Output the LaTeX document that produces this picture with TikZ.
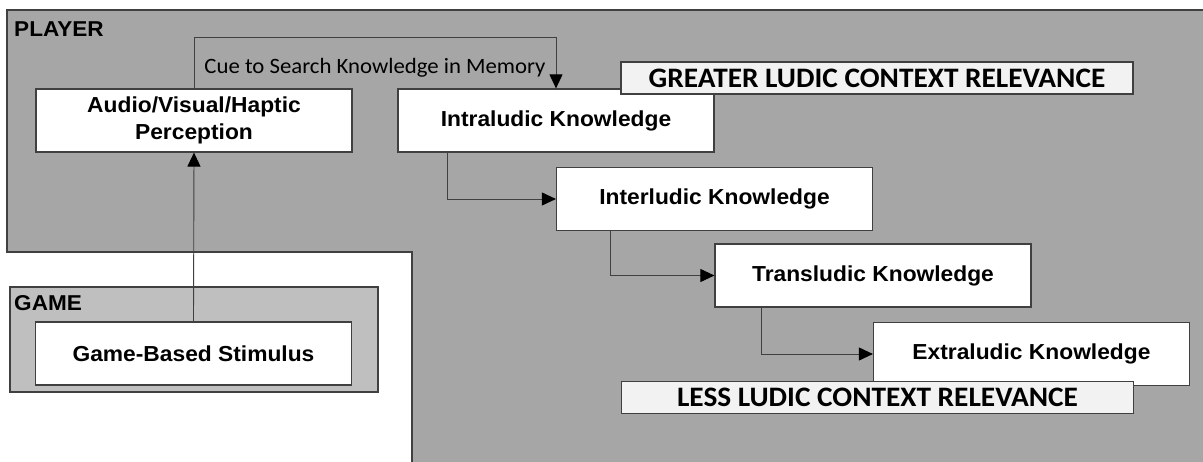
\documentclass[tikz,border=0pt]{standalone}
\usepackage{fontspec}
\usetikzlibrary{arrows.meta,calc}
\newfontfamily\boxfont[FakeStretch=1.05]{Liberation Sans}
\newfontfamily\calfont[FakeStretch=1.04]{Carlito}
\definecolor{edge}{HTML}{404040}
\definecolor{playerfill}{HTML}{A6A6A6}
\definecolor{gamefill}{HTML}{BFBFBF}
\definecolor{relfill}{HTML}{F2F2F2}
\tikzset{
  region/.style={draw=edge, line width=1.2pt},
  grouplabel/.style={anchor=base west, inner sep=0pt, font=\boxfont\bfseries\fontsize{21.5}{26}\selectfont},
  kbox/.style={draw=edge, fill=white, line width=1.2pt, minimum width=316pt, minimum height=63pt,
    inner sep=0pt, align=center, font=\boxfont\bfseries\fontsize{21.7}{27}\selectfont},
  relbox/.style={draw=edge, fill=relfill, line width=1.2pt, minimum width=512pt, minimum height=32pt,
    inner sep=0pt, font=\calfont\bfseries\fontsize{28.2}{32}\selectfont},
  arr/.style={draw=edge, line width=0.9pt, -{Triangle[length=14pt,width=13pt,color=black]}},
  cue/.style={font=\calfont\fontsize{21.9}{26}\selectfont, inner sep=0pt}
}
\begin{document}
\begin{tikzpicture}[x=1pt,y=-1pt]
  \useasboundingbox (0,0) rectangle (1203,461);
  \fill[white] (0,0) rectangle (1203,461);
  \clip (0,0) rectangle (1203,461);

  % player region, open towards the right and bottom edges
  \path[region, fill=playerfill] (7,10) -- (1220,10) -- (1220,480) -- (412,480) -- (412,252) -- (7,252) -- cycle;
  \node[grouplabel] (playerlbl) at (14,36.7) {PLAYER};

  % game region
  \node[region, fill=gamefill, minimum width=368pt, minimum height=105pt, inner sep=0pt] (game) at (194,339.5) {};
  \node[grouplabel] (gamelbl) at (14,310.7) {GAME};

  % boxes
  \node[kbox] (perc)  at (194,120.5) {Audio/Visual/Haptic\\Perception};
  \node[kbox] (stim)  at (193.5,353.5) {Game-Based Stimulus};
  \node[kbox] (intra) at (556,120.5) {Intraludic Knowledge};
  \node[kbox] (inter) at (714.5,199) {Interludic Knowledge};
  \node[kbox] (trans) at (873,275.5) {Transludic Knowledge};
  \node[kbox] (extra) at (1031.5,354) {Extraludic Knowledge};

  % relevance banners
  \node[relbox] (greater) at (877,78) {GREATER LUDIC CONTEXT RELEVANCE};
  \node[relbox] (less)    at (877.5,397.5) {LESS LUDIC CONTEXT RELEVANCE};

  % connectors
  \draw[arr] (stim.north) -- (perc.south);
  \draw[arr] (perc.north) -- ++(0,-51) -| node[cue, pos=0.25, anchor=base, yshift=-36pt] (cuelbl) {Cue to Search Knowledge in Memory} (intra.north);
  \draw[arr] ($(intra.south west)+(50,0)$) |- (inter.west);
  \draw[arr] ($(inter.south west)+(55,0)$) |- (trans.west);
  \draw[arr] ($(trans.south west)+(47,0)$) |- (extra.west);
\end{tikzpicture}
\end{document}
